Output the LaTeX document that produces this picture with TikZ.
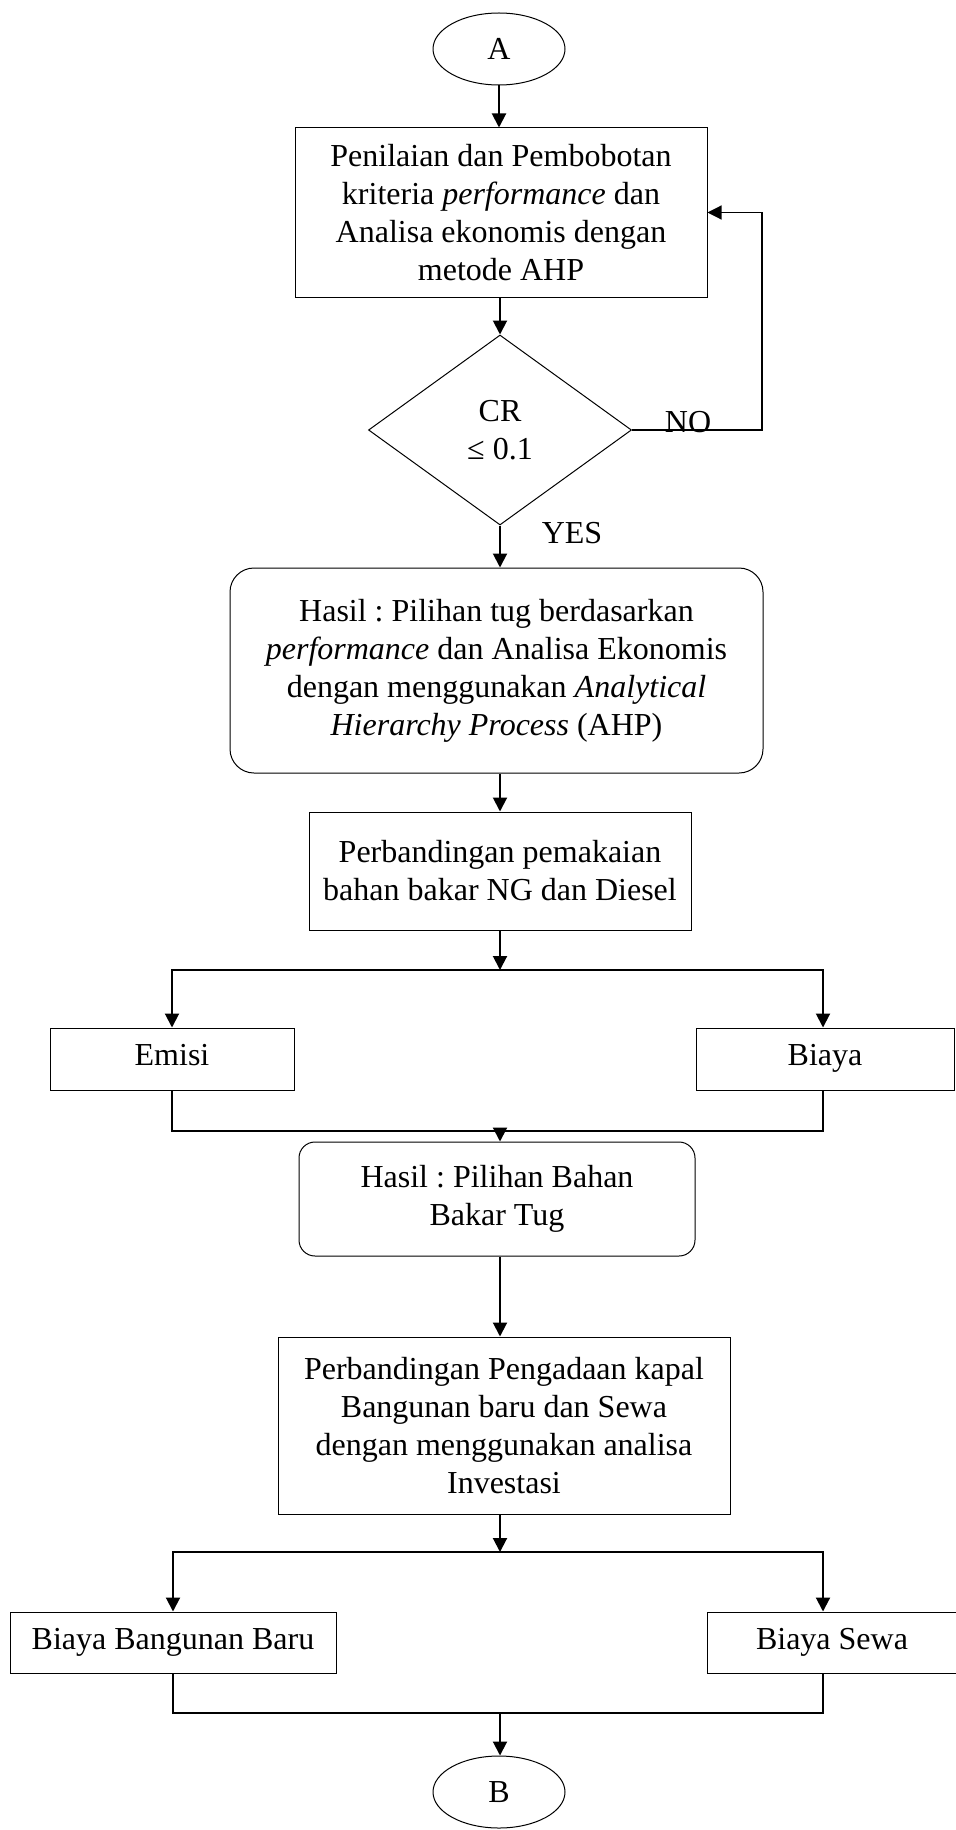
\documentclass[tikz,border=0pt]{standalone}
\usepackage{fontspec}
\setmainfont{Liberation Serif}
\frenchspacing
\usetikzlibrary{shapes.geometric,arrows.meta}

\tikzset{
  every node/.append style={font=\fontsize{16pt}{19pt}\selectfont},
  box/.style={draw, line width=0.5pt, align=center, inner sep=2pt},
  rbox/.style={box, rounded corners=12pt},
  onebox/.style={box, text height=0.88em, text depth=0.22em},
  term/.style={draw, ellipse, line width=0.5pt, minimum width=66pt, minimum height=36pt, inner sep=0pt},
  dec/.style={draw, diamond, line width=0.5pt, minimum width=131.5pt, minimum height=95pt, inner sep=0pt, align=center},
  arr/.style={line width=1pt, -{Triangle[length=7pt,width=7pt]}},
  backarr/.style={line width=0.6pt, -{Triangle[length=7pt,width=7pt]}},
  conn/.style={line width=1pt},
}

\begin{document}
\begin{tikzpicture}[x=0.5pt,y=-0.5pt]
  \useasboundingbox (0,0) rectangle (956,1830);

  % tahap AHP
  \node[term] (A) at(499,49){A};
  \node[box, minimum width=206pt, minimum height=84.5pt] (nilai) at(501,212.5){Penilaian dan Pembobotan\\kriteria \textit{performance} dan\\Analisa ekonomis dengan\\metode AHP};
  \node[dec] (cr) at(500,430){CR\\≤ 0.1};
  \node (no) at(688,422){NO};
  \node (yes) at(572,533){YES};
  \node[rbox, minimum width=266.5pt, minimum height=102.5pt] (hasil) at(496.5,670.5){Hasil : Pilihan tug berdasarkan\\\textit{performance} dan Analisa Ekonomis\\dengan menggunakan \textit{Analytical}\\\textit{Hierarchy Process} (AHP)};

  % tahap bahan bakar
  \node[box, minimum width=191pt, minimum height=59pt] (bakar) at(500,871){Perbandingan pemakaian\\bahan bakar NG dan Diesel};
  \node[onebox, minimum width=122pt, minimum height=31pt] (emisi) at(172,1059){Emisi};
  \node[onebox, minimum width=129pt, minimum height=31pt] (biaya) at(825,1059){Biaya};
  \node[rbox, rounded corners=8pt, minimum width=198pt, minimum height=57pt] (pilih) at(497,1199){Hasil : Pilihan Bahan\\Bakar Tug};

  % tahap investasi
  \node[box, minimum width=226pt, minimum height=88.5pt] (invest) at(504,1425.5){Perbandingan Pengadaan kapal\\Bangunan baru dan Sewa\\dengan menggunakan analisa\\Investasi};
  \node[onebox, minimum width=163pt, minimum height=30.5pt] (baru) at(173,1642.5){Biaya Bangunan Baru};
  \node[onebox, minimum width=125pt, minimum height=30.5pt] (sewa) at(832,1642.5){Biaya Sewa};
  \node[term] (B) at(499,1792){B};

  \coordinate (s1) at(500,970);
  \coordinate (m1) at(500,1131);
  \coordinate (s2) at(500,1552);
  \coordinate (m2) at(500,1713);

  % konektor
  \draw[arr] (A.south) -- (A.south |- nilai.north);
  \draw[arr] (cr.north |- nilai.south) -- (cr.north);
  \draw[backarr] (cr.east) -- ++(130,0) |- (nilai.east);
  \draw[arr] (cr.south) -- (cr.south |- hasil.north);
  \draw[arr] (bakar.north |- hasil.south) -- (bakar.north);
  \draw[arr] (bakar) -- (s1);
  \draw[arr] (s1) -| (emisi.north);
  \draw[arr] (s1) -| ([xshift=-1pt]biaya.north);
  \draw[conn] (emisi.south) |- (m1);
  \draw[conn] ([xshift=-1pt]biaya.south) |- (m1);
  \draw[arr] (m1) -- (m1 |- pilih.north);
  \draw[arr] (s1 |- pilih.south) -- (s1 |- invest.north);
  \draw[arr] (s1 |- invest.south) -- (s2);
  \draw[arr] (s2) -| (baru.north);
  \draw[arr] (s2) -| ([xshift=-4.5pt]sewa.north);
  \draw[conn] (baru.south) |- (m2);
  \draw[conn] ([xshift=-4.5pt]sewa.south) |- (m2);
  \draw[arr] (m2) -- (m2 |- B.north);
\end{tikzpicture}
\end{document}
